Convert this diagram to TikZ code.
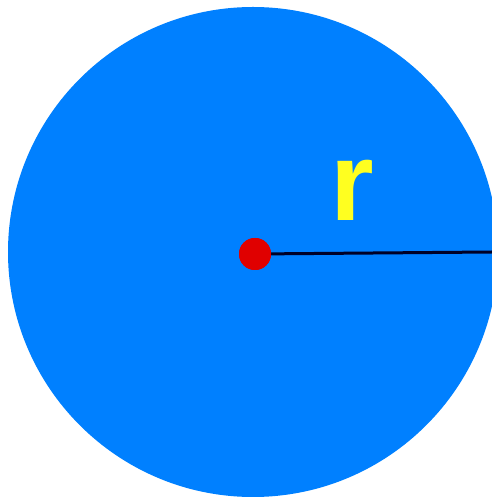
\documentclass[tikz,border=0pt]{standalone}
\usepackage{fontspec}
\newfontfamily\labelfont{Liberation Sans}
\definecolor{discblue}{HTML}{0080FF}
\definecolor{dotred}{HTML}{E00000}
\definecolor{lblyellow}{HTML}{FFFF20}
\begin{document}
\begin{tikzpicture}[x=1pt,y=1pt,
  disc/.style={fill=discblue,draw=none},
  centerdot/.style={circle,fill=dotred,draw=none,minimum size=32pt,inner sep=0pt},
  radline/.style={line width=3pt,draw=black!85!blue},
  lbl/.style={text=lblyellow,inner sep=0pt,font=\labelfont\bfseries\fontsize{112}{112}\selectfont}]
\useasboundingbox (0,0) rectangle (492,498);
\clip (0,0) rectangle (492,498);
\fill[disc] (253,246) circle (245);
\coordinate (edge) at (492,246);
\node[centerdot] (c) at (255,244) {};
\draw[radline] (c.center) -- (edge);
\node[centerdot] at (255,244) {};
\node[lbl] (r) at (352,308) {r};
\end{tikzpicture}
\end{document}
